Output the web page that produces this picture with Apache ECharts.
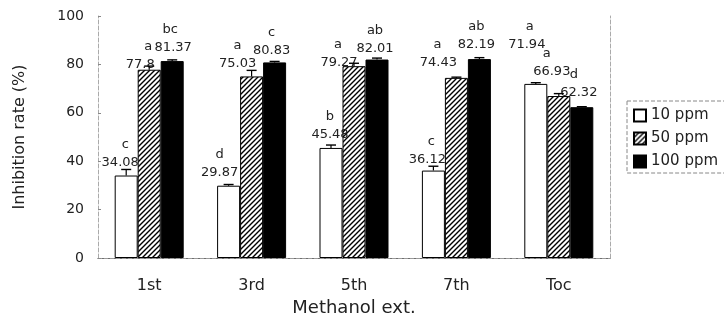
<!DOCTYPE html>
<html>
<head>
<meta charset="utf-8">
<script src="https://cdn.jsdelivr.net/npm/echarts@6/dist/echarts.min.js"></script>
<style>
html, body { margin: 0; padding: 0; background: #fff; }
#chart { width: 724px; height: 324px; }
</style>
</head>
<body>
<div id="chart"></div>
<script>
var categories = ['1st', '3rd', '5th', '7th', 'Toc'];
var seriesNames = ['10 ppm', '50 ppm', '100 ppm'];
var ppm10 = [34.08, 29.87, 45.48, 36.12, 71.94];
var ppm50 = [77.8, 75.03, 79.27, 74.43, 66.93];
var ppm100 = [81.37, 80.83, 82.01, 82.19, 62.32];
var err10 = [2.5, 0.5, 1.2, 1.8, 0.5];
var err50 = [1.5, 2.5, 1.2, 0.3, 1.0];
var err100 = [0.5, 0.4, 0.6, 0.6, 0.2];
var letters10 = ['c', 'd', 'b', 'c', 'a'];
var letters50 = ['a', 'a', 'a', 'a', 'a'];
var letters100 = ['bc', 'c', 'ab', 'ab', 'd'];

var values = [ppm10, ppm50, ppm100];
var errs = [err10, err50, err100];
var letters = [letters10, letters50, letters100];

// label nudges (px), the figure's labels are placed by hand
var labelDx = [[-6, -9, -1, -6, -9], [-9, -14, -15, -18, -7], [1, -3, -2, -3, -3]];
var labelDy = [[-6, -6, -6, -4, -32], [2, -6, 3, -8, -17], [-6, -5, -4, -7, -8]];
var letterDx = [[5, 0, 0, 4, 3], [8, 0, -1, -1, -5], [-3, 0, 0, 0, -5]];

var textColor = '#222';
var fontFamily = 'DejaVu Sans, Liberation Sans, sans-serif';
var barW = 23;

// hatch pattern for 50 ppm
function makeHatch() {
    var c = document.createElement('canvas');
    c.width = 5; c.height = 5;
    var ctx = c.getContext('2d');
    ctx.fillStyle = '#fff';
    ctx.fillRect(0, 0, 5, 5);
    ctx.strokeStyle = '#000';
    ctx.lineWidth = 1.4;
    ctx.beginPath();
    ctx.moveTo(-1, 6); ctx.lineTo(6, -1);
    ctx.moveTo(-1, 1); ctx.lineTo(1, -1);
    ctx.moveTo(4, 6); ctx.lineTo(6, 4);
    ctx.stroke();
    return c;
}
var hatch = makeHatch();
var fills = ['#fff', { image: hatch, repeat: 'repeat' }, '#000'];

function letterStyle(shift) {
    var pad = shift >= 0 ? [0, 0, 0, 2 * shift] : [0, -2 * shift, 0, 0];
    return { fontSize: 13, color: textColor, fontFamily: fontFamily, lineHeight: 22, align: 'center', padding: pad };
}

var myChart = echarts.init(document.getElementById('chart'));

var series = [];
values.forEach(function (vals, k) {
    series.push({
        name: seriesNames[k],
        type: 'bar',
        data: vals.map(function (v, i) {
            return {
                value: v,
                label: {
                    offset: [labelDx[k][i], labelDy[k][i]],
                    rich: {
                        l: letterStyle(letterDx[k][i]),
                        v: { fontSize: 13, color: textColor, fontFamily: fontFamily, lineHeight: 14, align: 'center' }
                    }
                }
            };
        }),
        barWidth: barW,
        barGap: '0%',
        itemStyle: { color: fills[k], borderColor: '#000', borderWidth: 1 },
        label: {
            show: true,
            position: 'top',
            distance: 0,
            formatter: function (p) {
                return '{l|' + letters[k][p.dataIndex] + '}\n{v|' + String(p.value) + '}';
            }
        },
        z: 3
    });
});

// error bars
values.forEach(function (vals, k) {
    series.push({
        type: 'custom',
        name: 'err' + k,
        data: vals.map(function (v, i) { return [i, v, errs[k][i]]; }),
        encode: { x: 0, y: 1 },
        z: 4,
        silent: true,
        renderItem: function (params, api) {
            var i = api.value(0);
            var v = api.value(1);
            var e = api.value(2);
            var p0 = api.coord([i, v]);
            var p1 = api.coord([i, v + e]);
            var x = p0[0] + (k - 1) * barW;
            var hw = 5;
            return {
                type: 'group',
                children: [
                    { type: 'line', shape: { x1: x, y1: p0[1], x2: x, y2: p1[1] }, style: { stroke: '#000', lineWidth: 1.2 } },
                    { type: 'line', shape: { x1: x - hw, y1: p1[1], x2: x + hw, y2: p1[1] }, style: { stroke: '#000', lineWidth: 1.4 } }
                ]
            };
        }
    });
});

var option = {
    animation: false,
    backgroundColor: '#fff',
    textStyle: { fontFamily: fontFamily },
    grid: { left: 98, right: 114, top: 16, bottom: 66 },
    legend: {
        data: seriesNames,
        orient: 'vertical',
        left: 627,
        top: 101,
        itemWidth: 12,
        itemHeight: 12,
        itemGap: 6,
        padding: [6, 10, 3, 6],
        borderColor: '#888',
        borderWidth: 1,
        borderType: 'dashed',
        textStyle: { fontSize: 15, color: textColor, fontFamily: fontFamily, lineHeight: 17 },
        icon: 'rect'
    },
    xAxis: [{
        type: 'category',
        data: categories,
        name: 'Methanol ext.',
        nameLocation: 'middle',
        nameGap: 40,
        nameTextStyle: { fontSize: 18, color: textColor, fontFamily: fontFamily },
        axisLine: { lineStyle: { color: '#555', width: 1 } },
        axisTick: { show: false },
        axisLabel: { fontSize: 16, color: textColor, margin: 20, fontFamily: fontFamily }
    }, {
        type: 'category',
        data: categories,
        position: 'top',
        axisLine: { lineStyle: { color: '#999', type: 'dashed', width: 1 } },
        axisTick: { show: false },
        axisLabel: { show: false }
    }],
    yAxis: [{
        type: 'value',
        min: 0,
        max: 100,
        interval: 20,
        name: 'Inhibition rate (%)',
        nameLocation: 'middle',
        nameGap: 70,
        nameTextStyle: { fontSize: 16, color: textColor, fontFamily: fontFamily },
        axisLine: { show: true, lineStyle: { color: '#aaa', type: 'dashed', width: 1 } },
        axisTick: { show: true, inside: true, length: 3, lineStyle: { color: '#888' } },
        axisLabel: { fontSize: 14, color: textColor, margin: 14, fontFamily: fontFamily },
        splitLine: { show: false }
    }, {
        type: 'value',
        min: 0,
        max: 100,
        interval: 20,
        position: 'right',
        axisLine: { show: true, lineStyle: { color: '#aaa', type: 'dashed', width: 1 } },
        axisTick: { show: false },
        axisLabel: { show: false },
        splitLine: { show: false }
    }],
    series: series
};
myChart.setOption(option);
</script>
</body>
</html>
